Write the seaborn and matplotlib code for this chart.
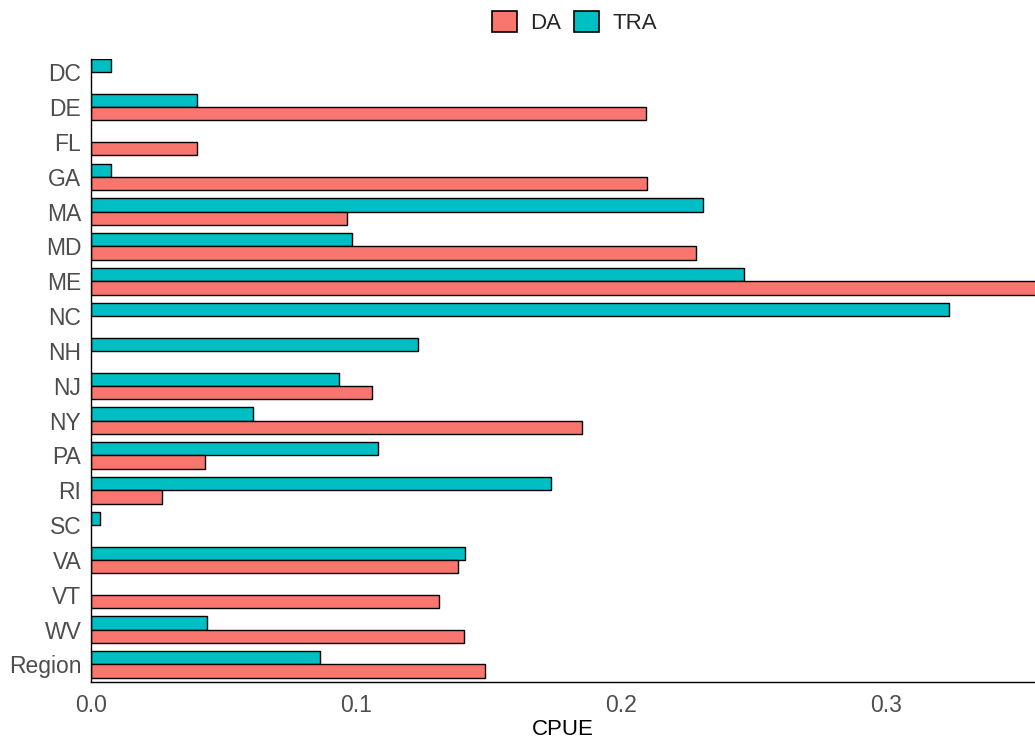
import numpy as np
import pandas as pd
import seaborn as sns
import matplotlib.pyplot as plt
from matplotlib.patches import Patch

# Data
regions = ['DC', 'DE', 'FL', 'GA', 'MA', 'MD', 'ME', 'NC', 'NH', 'NJ',
           'NY', 'PA', 'RI', 'SC', 'VA', 'VT', 'WV', 'Region']
da = [np.nan, 0.2094, 0.040, 0.2098, 0.0966, 0.2283, 0.362, np.nan, np.nan, 0.106,
      0.1853, 0.043, 0.0268, np.nan, 0.1385, 0.1313, 0.1408, 0.1487]
tra = [0.0075, 0.040, np.nan, 0.0075, 0.231, 0.0985, 0.2464, 0.3238, 0.1234, 0.0936,
       0.0611, 0.1083, 0.1736, 0.0034, 0.1411, np.nan, 0.0438, 0.0864]

colors = {'DA': '#F8766D', 'TRA': '#00BFC4'}

df = pd.DataFrame({'Region': regions * 2,
                   'Type': ['DA'] * len(regions) + ['TRA'] * len(regions),
                   'CPUE': da + tra})

sns.set_style('white')
plt.rcParams['font.family'] = ['Liberation Sans', 'DejaVu Sans']

fig = plt.figure(figsize=(10.35, 7.38), dpi=100)
ax = fig.add_axes([0.088, 0.076, 0.912, 0.844])

sns.barplot(data=df, y='Region', x='CPUE', hue='Type', order=regions,
            hue_order=['TRA', 'DA'], palette=colors, width=0.76, saturation=1,
            edgecolor='black', linewidth=1.0, orient='h', ax=ax, legend=False)

ax.set_xlim(0, 0.3562)
ax.set_ylim(len(regions) - 0.5, -0.38)
ax.set_xticks([0.0, 0.1, 0.2, 0.3])
ax.set_xticklabels(['0.0', '0.1', '0.2', '0.3'])
ax.tick_params(axis='both', length=0, labelsize=16.5, colors='#4D4D4D')
ax.tick_params(axis='x', pad=9)
ax.tick_params(axis='y', pad=7)
ax.set_ylabel('')
ax.set_xlabel('CPUE', fontsize=16, color='black', labelpad=1)

for s in ['top', 'right']:
    ax.spines[s].set_visible(False)
for s in ['left', 'bottom']:
    ax.spines[s].set_color('black')
    ax.spines[s].set_linewidth(1.0)

handles = [Patch(facecolor=colors[k], edgecolor='black', linewidth=1.2, label=k)
           for k in ['DA', 'TRA']]
fig.legend(handles=handles, loc='center', bbox_to_anchor=(0.555, 0.97), ncol=2,
           frameon=False, fontsize=16, handlelength=1.1, handleheight=1.1,
           handletextpad=0.6, columnspacing=0.6)

fig.savefig('out.png', dpi=100)
